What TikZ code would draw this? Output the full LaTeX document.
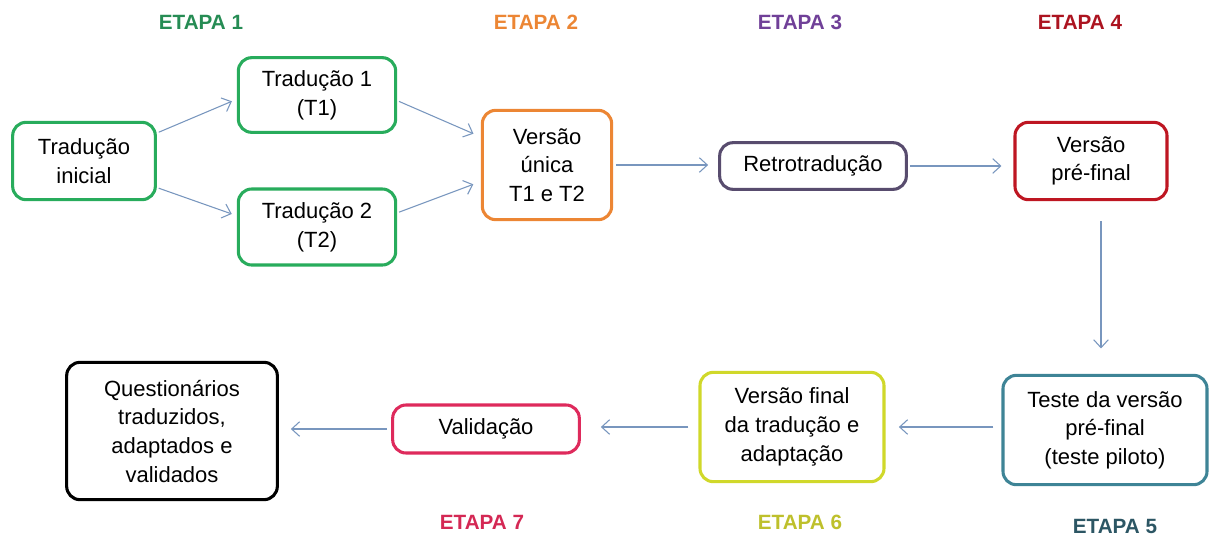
\documentclass[tikz,border=0pt]{standalone}
\usepackage{fontspec}
\setmainfont{Liberation Sans}
\usetikzlibrary{arrows.meta,calc}
\definecolor{cgreen}{RGB}{40,172,92}
\definecolor{tgreen}{RGB}{38,140,84}
\definecolor{corange}{RGB}{236,134,52}
\definecolor{cpurple}{RGB}{88,76,110}
\definecolor{tpurple}{RGB}{112,64,152}
\definecolor{cred}{RGB}{190,22,34}
\definecolor{tred}{RGB}{172,20,32}
\definecolor{cteal}{RGB}{62,132,150}
\definecolor{tteal}{RGB}{44,86,100}
\definecolor{cyellow}{RGB}{208,216,42}
\definecolor{tyellow}{RGB}{190,192,44}
\definecolor{ccrimson}{RGB}{222,42,92}
\definecolor{tcrimson}{RGB}{212,40,84}
\definecolor{carrow}{RGB}{120,150,190}
\tikzset{
  box/.style={draw=#1, line width=2.3pt, rounded corners=10pt, fill=white, align=center,
    font=\fontsize{16.5}{21.5}\selectfont, inner sep=2pt},
  etapa/.style={text=#1, font=\fontsize{15.5}{18}\selectfont\bfseries},
  conn/.style={draw=carrow, line width=0.8pt, -{Straight Barb[length=6pt,width=11pt,line width=0.8pt]}}
}
\begin{document}
\begin{tikzpicture}[x=0.75pt,y=-0.75pt]
\useasboundingbox (0,0) rectangle (1211,540);
% stage labels
\node[etapa=tgreen] (e1) at (201,22) {ETAPA 1};
\node[etapa=corange] (e2) at (536,22) {ETAPA 2};
\node[etapa=tpurple] (e3) at (800,22) {ETAPA 3};
\node[etapa=tred] (e4) at (1080,22) {ETAPA 4};
\node[etapa=tteal] (e5) at (1115,526) {ETAPA 5};
\node[etapa=tyellow] (e6) at (800,522) {ETAPA 6};
\node[etapa=tcrimson] (e7) at (482,522) {ETAPA 7};
% boxes
\node[box=cgreen, minimum width=107pt, minimum height=58pt] (ti) at (84,161) {Tradução\\inicial};
\node[box=cgreen, minimum width=118pt, minimum height=56pt] (t1) at (317,95) {Tradução 1\\(T1)};
\node[box=cgreen, minimum width=118pt, minimum height=57pt] (t2) at (317,227) {Tradução 2\\(T2)};
\node[box=corange, minimum width=97pt, minimum height=82pt] (vu) at (547,165) {Versão\\única\\T1 e T2};
\node[box=cpurple, minimum width=140pt, minimum height=35pt] (rt) at (813,166) {Retrotradução};
\node[box=cred, minimum width=114pt, minimum height=58pt] (vp) at (1091,161) {Versão\\pré-final};
\node[box=cteal, minimum width=153pt, minimum height=82pt] (te) at (1105,430) {Teste da versão\\pré-final\\(teste piloto)};
\node[box=cyellow, minimum width=138pt, minimum height=82pt] (vf) at (792,427) {Versão final\\da tradução e\\adaptação};
\node[box=ccrimson, minimum width=140pt, minimum height=36pt] (va) at (486,429) {Validação};
\node[box=black, minimum width=158pt, minimum height=103pt] (qu) at (172,431) {Questionários\\traduzidos,\\adaptados e\\validados};
% connectors
\draw[conn, shorten <=1.5pt, shorten >=4pt] (ti.21) -- (t1.183);
\draw[conn, shorten <=1.5pt, shorten >=4pt] (ti.-20) -- (t2.172);
\draw[conn, shorten <=1.5pt, shorten >=6pt] (t1.-4) -- (vu.157);
\draw[conn, shorten <=1.5pt, shorten >=6pt] (t2.10) -- (vu.194);
\draw[conn, shorten <=2pt, shorten >=7.5pt] (vu.east) -- (vu.east -| rt.west);
\draw[conn, shorten <=1.5pt, shorten >=9pt] (rt.east) -- (rt.east -| vp.west);
\draw[conn, shorten <=15pt, shorten >=19pt] ($(vp.south)+(10,0)$) -- ($(te.north)+(-4,0)$);
\draw[conn, shorten <=6pt, shorten >=10pt] (te.west |- vf.east) -- (vf.east);
\draw[conn, shorten <=7.5pt, shorten >=15pt] (vf.west) -- (vf.west -| va.east);
\draw[conn, shorten <=3pt, shorten >=9pt] (va.west) -- (va.west -| qu.east);
\end{tikzpicture}
\end{document}
